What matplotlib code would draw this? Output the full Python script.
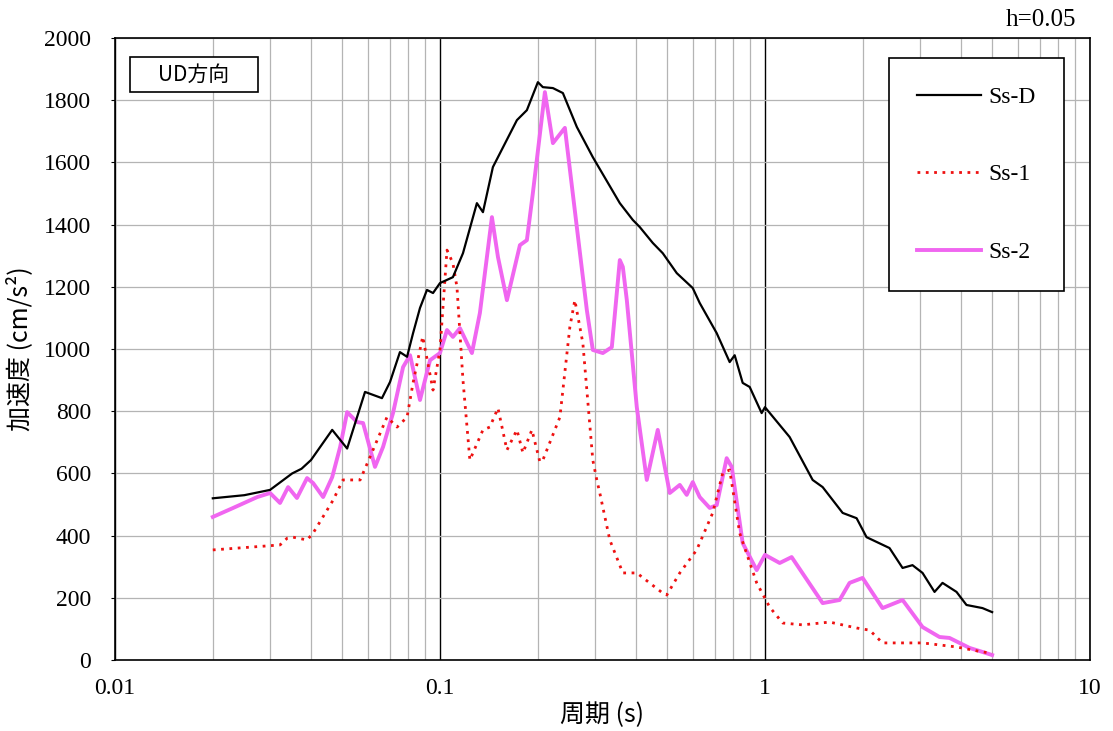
import matplotlib
matplotlib.use("Agg")
import matplotlib.pyplot as plt
from matplotlib.patches import Rectangle
from matplotlib.ticker import FixedLocator, NullFormatter

# response spectra (period in s, acceleration in cm/s^2)
ssd_period = [0.02, 0.025, 0.03, 0.0351, 0.0375, 0.0401, 0.0466, 0.0518, 0.0588, 0.0663,
              0.0702, 0.0753, 0.0792, 0.0826, 0.0868, 0.0912, 0.0952, 0.1, 0.1096, 0.1177,
              0.1299, 0.1356, 0.1455, 0.1725, 0.1851, 0.2001, 0.2073, 0.2226, 0.2389, 0.2637,
              0.2953, 0.3576, 0.3921, 0.412, 0.4517, 0.4848, 0.5353, 0.5995, 0.6298, 0.7104,
              0.7788, 0.8069, 0.854, 0.8974, 0.9768, 1.0, 1.191, 1.402, 1.505, 1.734,
              1.914, 2.054, 2.417, 2.651, 2.844, 3.054, 3.325, 3.518, 3.885, 4.169,
              4.669, 5.0]
ssd_value = [520, 530, 547, 600, 615, 643, 740, 680, 862, 842,
             894, 990, 975, 1050, 1132, 1190, 1180, 1212, 1231, 1308,
             1469, 1440, 1585, 1736, 1768, 1858, 1842, 1839, 1823, 1714,
             1617, 1469, 1415, 1392, 1341, 1308, 1244, 1196, 1148, 1051,
             958, 980, 891, 878, 794, 813, 717, 579, 556, 473,
             456, 395, 360, 296, 305, 280, 219, 248, 219, 177,
             167, 154]

ss1_period = [0.02, 0.0322, 0.0339, 0.0353, 0.039, 0.0407, 0.0469, 0.0503, 0.0568, 0.0622,
              0.0687, 0.0738, 0.0792, 0.0826, 0.0885, 0.0952, 0.1, 0.1051, 0.1096, 0.1128,
              0.1177, 0.1236, 0.1356, 0.1424, 0.1508, 0.1607, 0.1725, 0.18, 0.1918, 0.203,
              0.2073, 0.2339, 0.251, 0.26, 0.2752, 0.2953, 0.3038, 0.3103, 0.3331, 0.3653,
              0.4033, 0.4848, 0.4987, 0.5469, 0.6166, 0.6906, 0.7412, 0.7788, 0.836, 0.943,
              1.034, 1.134, 1.306, 1.581, 1.914, 2.099, 2.3, 3.054, 3.885, 4.669, 5.0]
ss1_value = [354, 370, 392, 395, 386, 408, 514, 579, 579, 675,
             781, 749, 781, 890, 1040, 868, 997, 1318, 1276, 1199,
             900, 643, 740, 749, 810, 675, 740, 666, 740, 637,
             643, 781, 1071, 1157, 1019, 643, 579, 537, 386, 280,
             280, 215, 209, 280, 354, 473, 601, 611, 408, 248,
             170, 119, 113, 122, 103, 96, 55, 55, 42, 26, 22]

ss2_period = [0.02, 0.0231, 0.0274, 0.03, 0.0322, 0.0341, 0.0363, 0.039, 0.0407, 0.0437,
              0.0466, 0.0493, 0.0518, 0.0556, 0.058, 0.0631, 0.0668, 0.0717, 0.077, 0.0809,
              0.0868, 0.0932, 0.1, 0.1051, 0.1096, 0.1152, 0.1254, 0.1327, 0.1445, 0.1508,
              0.1607, 0.1762, 0.1851, 0.1931, 0.2103, 0.2226, 0.2423, 0.2637, 0.2831, 0.2953,
              0.317, 0.3379, 0.3576, 0.3653, 0.3758, 0.4033, 0.4329, 0.4679, 0.5093, 0.5469,
              0.5744, 0.5995, 0.6298, 0.6761, 0.7104, 0.7624, 0.79, 0.854, 0.943, 1.0,
              1.11, 1.208, 1.505, 1.697, 1.821, 1.997, 2.3, 2.651, 3.054, 3.444,
              3.697, 4.258, 4.669, 5.0]
ss2_value = [460, 489, 524, 537, 505, 556, 521, 585, 569, 524,
             588, 685, 797, 765, 762, 621, 685, 794, 942, 980,
             836, 964, 987, 1061, 1039, 1067, 987, 1116, 1424, 1296,
             1157, 1334, 1350, 1501, 1826, 1662, 1711, 1392, 1125, 997,
             987, 1006, 1286, 1264, 1157, 813, 579, 740, 537, 563,
             531, 572, 524, 489, 498, 649, 621, 376, 289, 338,
             312, 331, 183, 193, 248, 264, 167, 193, 106, 74,
             71, 39, 26, 16]

x_ticks = [0.01, 0.1, 1, 10]
x_tick_labels = ["0.01", "0.1", "1", "10"]
y_ticks = list(range(0, 2001, 200))

num_font = "Liberation Serif"
jp_font = ["Noto Sans CJK JP", "DejaVu Sans"]

fig = plt.figure(figsize=(11.13, 7.31), dpi=100)
ax = fig.add_axes([0.1033, 0.0971, 0.8760, 0.8509])

ax.plot(ssd_period, ssd_value, color="black", lw=1.6, label="Ss-D", zorder=5)
ax.plot(ss1_period, ss1_value, color="#ee1111", lw=2.0, linestyle=(0, (1, 2)), label="Ss-1", zorder=4)
ax.plot(ss2_period, ss2_value, color="#f066f0", lw=2.8, label="Ss-2", zorder=3)

ax.set_xscale("log")
ax.set_xlim(0.01, 10)
ax.set_ylim(0, 2000)
ax.xaxis.set_major_locator(FixedLocator(x_ticks))
ax.set_xticklabels(x_tick_labels)
ax.xaxis.set_minor_formatter(NullFormatter())
ax.set_yticks(y_ticks)

ax.grid(which="minor", axis="x", color="#b4b4b4", lw=0.9)
ax.grid(which="major", axis="x", color="black", lw=1.0)
ax.grid(which="major", axis="y", color="#b4b4b4", lw=0.9)
ax.set_axisbelow(True)

ax.tick_params(axis="x", which="both", length=0, pad=13)
ax.tick_params(axis="y", length=3, pad=14)
for lab in ax.get_xticklabels() + ax.get_yticklabels():
    lab.set_fontfamily(num_font)
    lab.set_fontsize(17)
for sp in ax.spines.values():
    sp.set_color("black")
    sp.set_linewidth(1.2)

ax.set_xlabel("周期 (s)", family=jp_font, fontsize=18, labelpad=2)
ax.set_ylabel("加速度 (cm/s²)", family=jp_font, fontsize=18, labelpad=8)

# direction label in a plain box, top left
ax.add_patch(Rectangle((0.0154, 0.9132), 0.1313, 0.0563, transform=ax.transAxes,
                       facecolor="white", edgecolor="black", lw=1.2, zorder=6))
ax.text(0.081, 0.9415, "UD方向", family=jp_font, fontsize=15, ha="center", va="center",
        transform=ax.transAxes, zorder=7)
fig.text(0.967, 0.972, "h=0.05", family=num_font, fontsize=18, ha="right", va="center")

leg = ax.legend(loc="upper right", bbox_to_anchor=(0.9733, 0.9678), borderaxespad=0,
                fancybox=False, framealpha=1, edgecolor="black", labelspacing=2.37,
                handlelength=2.7, handletextpad=0.3, borderpad=1.2,
                prop={"family": num_font, "size": 17})
leg.get_frame().set_linewidth(1.2)

fig.savefig("out.png", dpi=100)
